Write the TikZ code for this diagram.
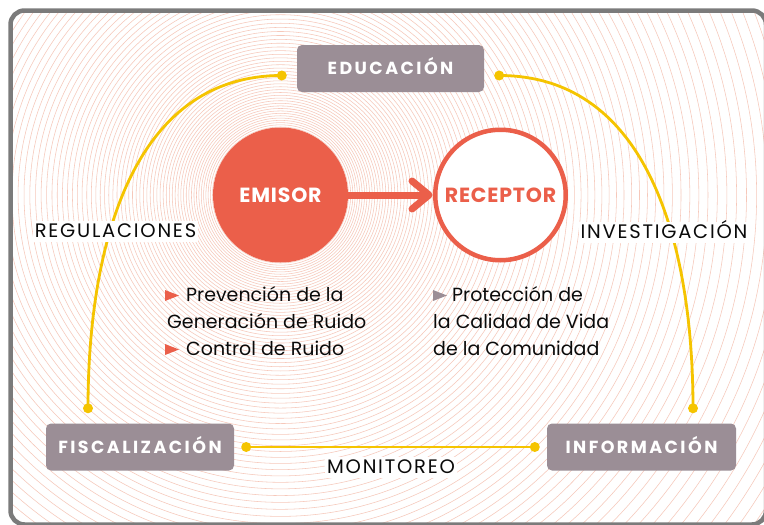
\documentclass[tikz,border=0pt]{standalone}
\usepackage{fontspec}
\setmainfont{Poppins}
\newfontfamily\labfont{Poppins}[LetterSpace=9]
\newfontfamily\boxfont{Poppins}[LetterSpace=14]
\newfontfamily\circfont{Poppins}[LetterSpace=4]
\usetikzlibrary{calc}
\definecolor{cred}{HTML}{EB5F4A}
\definecolor{cbox}{HTML}{9B8E96}
\definecolor{cyel}{HTML}{F5C400}
\definecolor{cring}{HTML}{F6C8BA}
\definecolor{cframe}{HTML}{7B7B7B}
\definecolor{ctext}{HTML}{0A0A0A}
\begin{document}
\begin{tikzpicture}[x=1pt,y=-1pt,
  topic/.style={fill=cbox, rounded corners=5pt, minimum height=47pt, inner sep=0pt,
    text=white, text height=12pt, text depth=0pt,
    font=\boxfont\bfseries\fontsize{17.5}{20}\selectfont},
  lab/.style={fill=white, inner xsep=2pt, inner ysep=3pt, anchor=base,
    text=ctext, text height=13pt, text depth=2pt,
    font=\labfont\fontsize{19.5}{22}\selectfont},
  listtxt/.style={anchor=base west, inner sep=0pt, text=ctext,
    font=\fontsize{19}{22}\selectfont},
  yel/.style={cyel, line width=2.8pt},
  dot/.style={cyel},
  bigc/.style={circle, inner sep=0pt, text height=15pt, text depth=0pt,
    font=\circfont\bfseries\fontsize{20.5}{24}\selectfont}
]
\useasboundingbox (0,0) rectangle (764,525);
\begin{scope}
  \clip[rounded corners=14pt] (10.5,10.5) rectangle (766,524.5);
  \fill[white] (0,0) rectangle (764,525);
  \foreach \n in {0,...,95}{
    \pgfmathsetmacro\r{108*1.02^\n-40}
    \draw[cring, line width=0.55pt] (280.5,195) circle[radius=\r pt];
  }
\end{scope}
\draw[cframe, line width=4.5pt, rounded corners=14pt] (10.5,10.5) rectangle (766,524.5);

% topic boxes
\node[topic, minimum width=187pt] (edu) at (390.5,68.5) {EDUCACIÓN};
\node[topic, minimum width=188pt] (fis) at (140,447) {FISCALIZACIÓN};
\node[topic, minimum width=189pt] (inf) at (641.5,447) {INFORMACIÓN};

% connector end points
\coordinate (dtl) at ($(edu.west)+(-15,7)$);
\coordinate (dtr) at ($(edu.east)+(15,7)$);
\coordinate (dbl) at ($(fis.north)+(-52,-15)$);
\coordinate (dbr) at ($(inf.north)+(51.5,-15)$);
\coordinate (dfl) at ($(fis.east)+(12,0)$);
\coordinate (dfr) at ($(inf.west)+(-12,0)$);

\draw[yel] (dtl) .. controls +(-152,0) and +(0,-158) .. (dbl);
\draw[yel] (dtr) .. controls +(152,0) and +(0,-158) .. (dbr);
\draw[yel] (dfl) -- (dfr);
\foreach \p in {dtl,dtr,dbl,dbr,dfl,dfr}{\fill[dot] (\p) circle[radius=5pt];}

% labels on connectors
\node[lab] (reg) at (115.5,237) {REGULACIONES};
\node[lab] (inv) at (664,238) {INVESTIGACIÓN};
\node[lab] (mon) at (391,473) {MONITOREO};

% emitter and receiver
\node[bigc, fill=cred, text=white, minimum size=135pt] (emisor) at (280.5,195) {EMISOR};
\node[bigc, draw=cred, line width=4.5pt, fill=white, text=cred, minimum size=130.5pt] (receptor) at (500.5,195) {RECEPTOR};
\draw[cred, line width=7pt] (emisor.east) -- ($(receptor.west)+(-4,0)$);
\draw[cred, line width=7pt, line cap=round, line join=round]
  ($(receptor.west)+(-21,-14)$) -- ($(receptor.west)+(-4,0)$) -- ($(receptor.west)+(-21,14)$);

% lists
\node[listtxt] (l1) at (186,301) {Prevención de la};
\node[listtxt] (l2) at (167,328) {Generación de Ruido};
\node[listtxt] (l3) at (186,355) {Control de Ruido};
\node[listtxt] (r1) at (452,301) {Protección de};
\node[listtxt] (r2) at (433,328) {la Calidad de Vida};
\node[listtxt] (r3) at (433,355) {de la Comunidad};
\fill[cred] ($(l1.base west)+(-21,-11)$) -- ($(l1.base west)+(-21,0)$) -- ($(l1.base west)+(-7,-5.5)$) -- cycle;
\fill[cred] ($(l3.base west)+(-21,-11)$) -- ($(l3.base west)+(-21,0)$) -- ($(l3.base west)+(-7,-5.5)$) -- cycle;
\fill[cbox] ($(r1.base west)+(-19,-11)$) -- ($(r1.base west)+(-19,0)$) -- ($(r1.base west)+(-5,-5.5)$) -- cycle;
\end{tikzpicture}
\end{document}
